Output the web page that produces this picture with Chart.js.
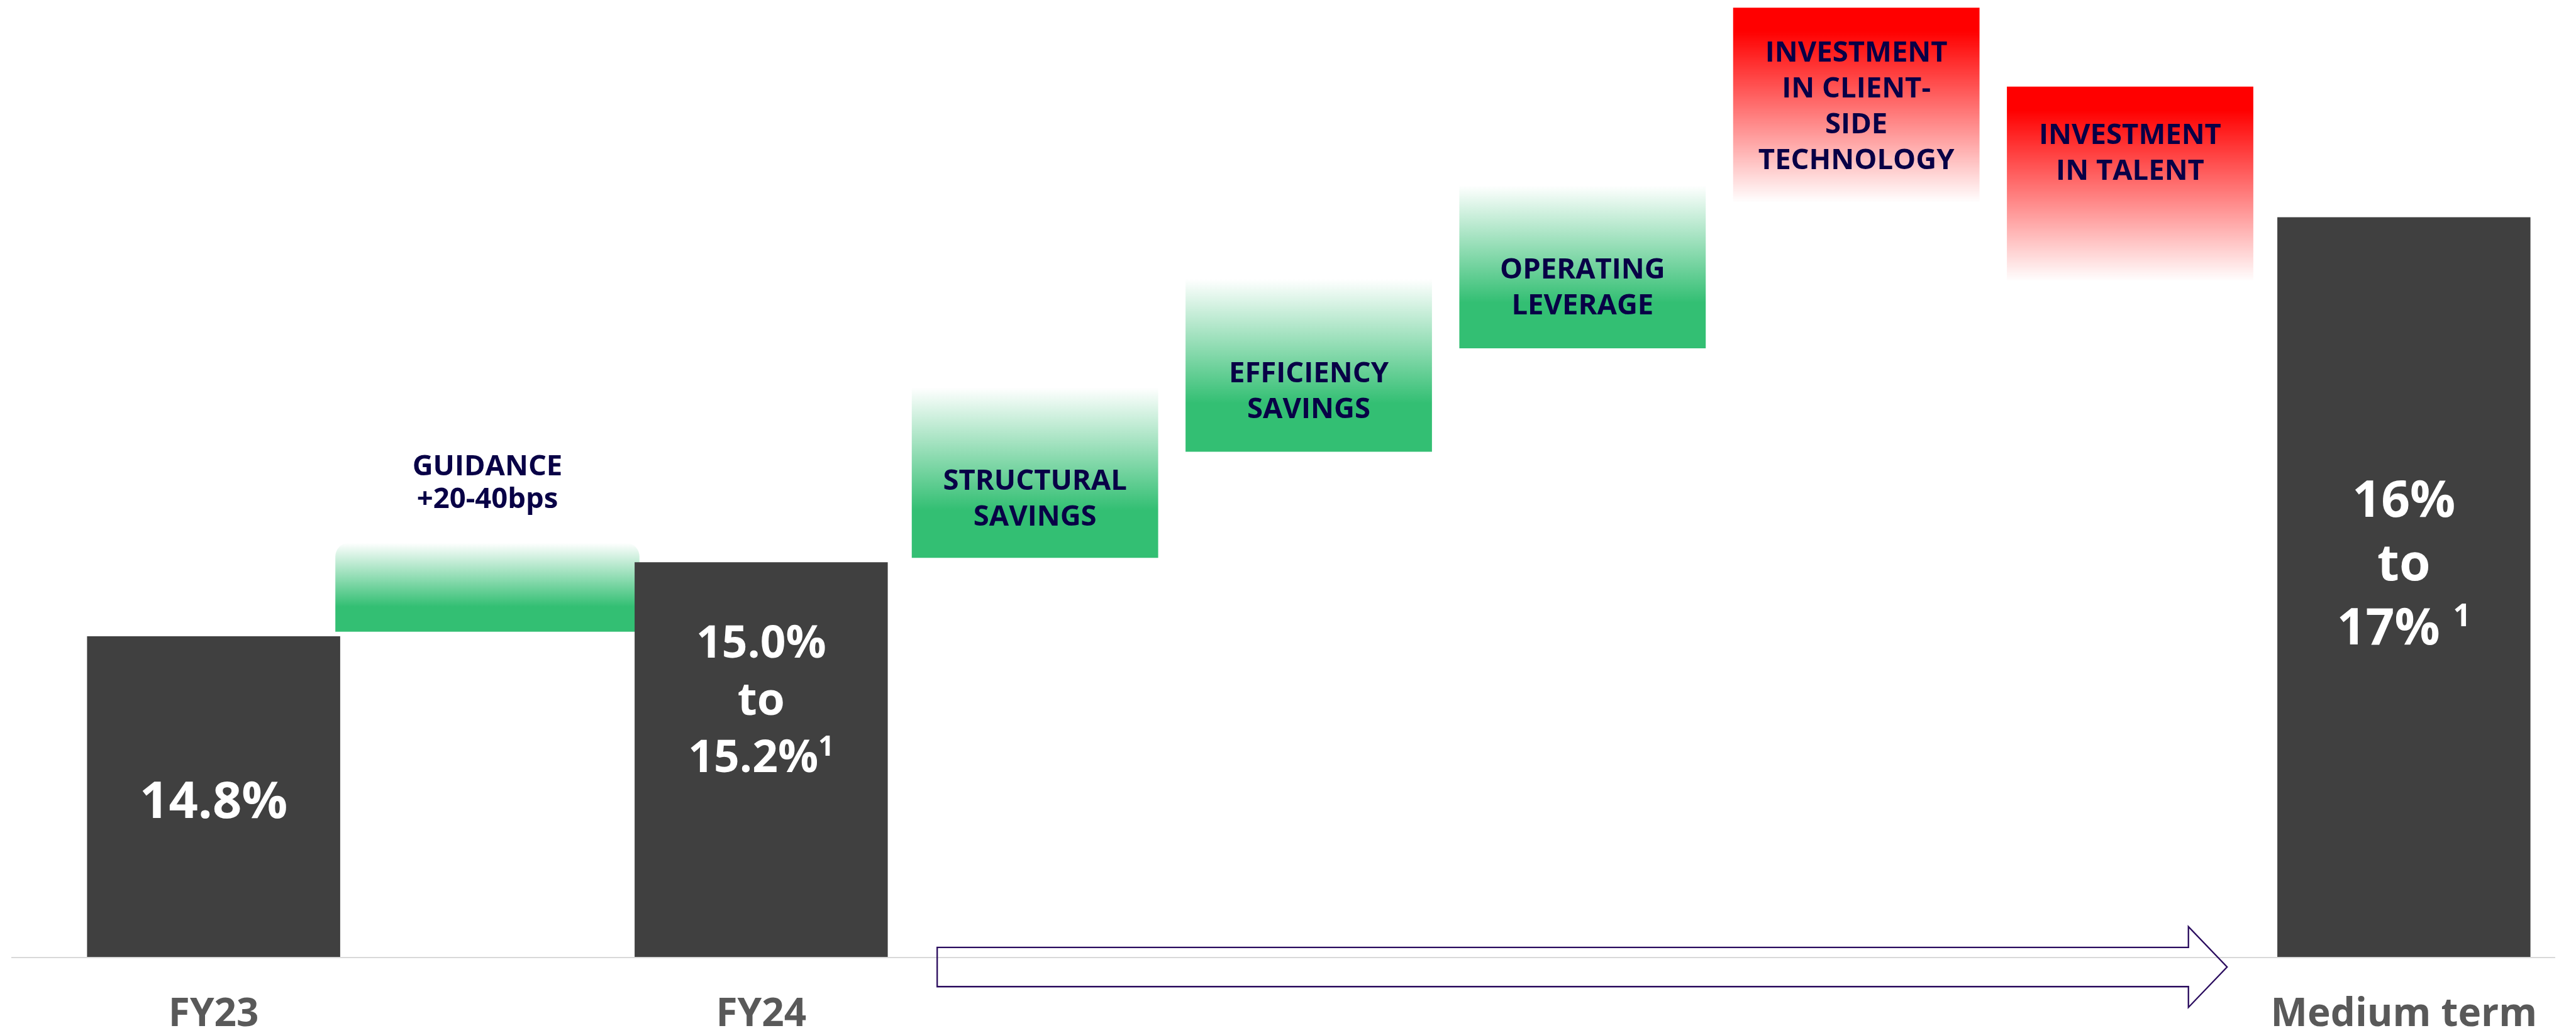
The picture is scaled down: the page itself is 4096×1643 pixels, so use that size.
<!DOCTYPE html>
<html>
<head>
<meta charset="utf-8">
<script src="https://cdn.jsdelivr.net/npm/chart.js@4.4.0/dist/chart.umd.min.js"></script>
<style>
  html, body { margin: 0; padding: 0; background: #fff; }
  #wrap { width: 4096px; height: 1643px; }
</style>
</head>
<body>
<div id="wrap"><canvas id="marginChart" width="4096" height="1643"></canvas></div>
<script>
// data (operating margin walk, % of revenue)
const categories = ['FY23', '', 'FY24', '', '', '', '', '', 'Medium term'];
const marginTotals = [14.8, null, 15.1, null, null, null, null, null, 16.5];
const guidanceRange = [null, [14.82, 15.18], null, null, null, null, null, null, null];
const savingsRanges = [null, null, null, [15.12, 15.81], [15.55, 16.25], [15.97, 16.63], null, null, null];
const investmentRanges = [null, null, null, null, null, null, [16.56, 17.35], [16.24, 17.03], null];
const barLabels = [
  ['14.8%'],
  ['GUIDANCE', '+20-40bps'],
  ['15.0%', 'to', '15.2%'],
  ['STRUCTURAL', 'SAVINGS'],
  ['EFFICIENCY', 'SAVINGS'],
  ['OPERATING', 'LEVERAGE'],
  ['INVESTMENT', 'IN CLIENT-', 'SIDE', 'TECHNOLOGY'],
  ['INVESTMENT', 'IN TALENT'],
  ['16%', 'to', '17% ']
];
const footnotes = [null, null, '1', null, null, null, null, null, '1'];
const yMin = 13.5;
const yMax = 17.382;

// look
const S = 0.891;
const DARK = '#404040';
const NAVY = '#080046';
const FONT = '"Open Sans", "Noto Sans", sans-serif';
// font size, line step, colour, shift of text block from bar middle (reference px)
const labelStyle = [
  { size: 91, step: 0, color: '#fff', shift: 5 },
  { size: 51, step: 58, color: NAVY, shift: -189 },
  { size: 80, step: 102, color: '#fff', shift: -109 },
  { size: 51, step: 64, color: NAVY, shift: 45 },
  { size: 51, step: 64, color: NAVY, shift: 44 },
  { size: 51, step: 64, color: NAVY, shift: 35 },
  { size: 51, step: 64, color: NAVY, shift: 0 },
  { size: 51, step: 64, color: NAVY, shift: -58 },
  { size: 90, step: 114, color: '#fff', shift: -44 }
];

function barSpan(ctx) {
  const raw = ctx.raw;
  const y = ctx.chart.scales.y;
  if (!Array.isArray(raw) || !y) return null;
  return { top: y.getPixelForValue(raw[1]), bottom: y.getPixelForValue(raw[0]) };
}

function greenFade(ctx) {
  const s = barSpan(ctx);
  if (!s) return '#33bf73';
  const g = ctx.chart.ctx.createLinearGradient(0, s.top, 0, s.bottom);
  g.addColorStop(0, 'rgba(51,191,115,0)');
  g.addColorStop(0.72, 'rgba(51,191,115,1)');
  g.addColorStop(1, 'rgba(51,191,115,1)');
  return g;
}

function redFade(ctx) {
  const s = barSpan(ctx);
  if (!s) return '#ff0000';
  const g = ctx.chart.ctx.createLinearGradient(0, s.top, 0, s.bottom);
  g.addColorStop(0, 'rgba(255,0,0,1)');
  g.addColorStop(0.12, 'rgba(255,0,0,1)');
  g.addColorStop(1, 'rgba(255,0,0,0)');
  return g;
}

// baseline under the bars, a bit wider than the plot
const baseLine = {
  id: 'baseLine',
  beforeDatasetsDraw(chart) {
    const { ctx, chartArea } = chart;
    ctx.save();
    ctx.strokeStyle = '#d9d9d9';
    ctx.lineWidth = 2 * S;
    ctx.beginPath();
    ctx.moveTo(18, chartArea.bottom + 1);
    ctx.lineTo(chartArea.right + 23, chartArea.bottom + 1);
    ctx.stroke();
    ctx.restore();
  }
};

// text inside / above each bar
const barText = {
  id: 'barText',
  afterDatasetsDraw(chart) {
    const ctx = chart.ctx;
    const bottom = chart.chartArea.bottom;
    ctx.save();
    ctx.textBaseline = 'alphabetic';
    ctx.textAlign = 'left';
    chart.data.datasets.forEach((ds, di) => {
      chart.getDatasetMeta(di).data.forEach((bar, i) => {
        if (ds.data[i] == null || !barLabels[i]) return;
        const st = labelStyle[i];
        const size = st.size * S, step = st.step * S;
        const cap = 0.714 * size;
        const lines = barLabels[i];
        const mid = (bar.y + Math.min(bar.base, bottom)) / 2 + st.shift * S;
        let yb = mid - ((lines.length - 1) * step + cap) / 2 + cap;
        const mainFont = `bold ${size}px ${FONT}`;
        const supFont = `bold ${size * 0.62}px ${FONT}`;
        ctx.fillStyle = st.color;
        lines.forEach((t, k) => {
          const sup = k === lines.length - 1 ? footnotes[i] : null;
          ctx.font = mainFont;
          const w = ctx.measureText(t).width;
          let sw = 0;
          if (sup) { ctx.font = supFont; sw = ctx.measureText(sup).width; }
          const x0 = bar.x - (w + sw) / 2;
          ctx.font = mainFont;
          ctx.fillText(t, x0, yb);
          if (sup) {
            ctx.font = supFont;
            ctx.fillText(sup, x0 + w, yb - cap - 0.12 * cap + 0.714 * size * 0.62);
          }
          yb += step;
        });
      });
    });
    ctx.restore();
  }
};

// outlined arrow from FY24 towards medium term
const arrow = {
  id: 'arrow',
  afterDatasetsDraw(chart) {
    const start = chart.getDatasetMeta(2).data[3];
    const end = chart.getDatasetMeta(0).data[8];
    if (!start || !end) return;
    const ctx = chart.ctx;
    const x0 = start.x - start.width / 2 + 45 * S;
    const x2 = end.x - end.width / 2 - 90 * S;
    const x1 = x2 - 69 * S;
    const yc = chart.chartArea.bottom + 18 * S;
    const sh = 35 * S, hh = 72 * S;
    ctx.save();
    ctx.strokeStyle = '#2a0c5e';
    ctx.lineWidth = 2.6 * S;
    ctx.lineJoin = 'miter';
    ctx.beginPath();
    ctx.moveTo(x0, yc - sh);
    ctx.lineTo(x1, yc - sh);
    ctx.lineTo(x1, yc - hh);
    ctx.lineTo(x2, yc);
    ctx.lineTo(x1, yc + hh);
    ctx.lineTo(x1, yc + sh);
    ctx.lineTo(x0, yc + sh);
    ctx.closePath();
    ctx.stroke();
    ctx.restore();
  }
};

// config
const config = {
  type: 'bar',
  data: {
    labels: categories,
    datasets: [{
      label: 'Margin',
      data: marginTotals,
      backgroundColor: DARK,
      barThickness: 451 * S
    }, {
      label: 'Guidance',
      data: guidanceRange,
      backgroundColor: greenFade,
      borderRadius: { topLeft: 25 * S, topRight: 25 * S, bottomLeft: 0, bottomRight: 0 },
      borderSkipped: false,
      barThickness: 542 * S
    }, {
      label: 'Savings',
      data: savingsRanges,
      backgroundColor: greenFade,
      barThickness: 439 * S
    }, {
      label: 'Investment',
      data: investmentRanges,
      backgroundColor: redFade,
      barThickness: 439 * S
    }]
  },
  options: {
    responsive: false,
    devicePixelRatio: 1,
    animation: false,
    datasets: { bar: { grouped: false } },
    layout: { padding: { left: 122, right: 56, top: 0, bottom: 0 } },
    plugins: { legend: { display: false }, tooltip: { enabled: false } },
    scales: {
      x: {
        grid: { display: false, drawTicks: false },
        border: { display: false },
        ticks: {
          autoSkip: false,
          maxRotation: 0,
          padding: 55,
          color: '#595959',
          font: { family: FONT, size: 62, weight: 'bold' }
        },
        afterFit: (axis) => { axis.height = 121; }
      },
      y: {
        display: false,
        min: yMin,
        max: yMax
      }
    }
  },
  plugins: [baseLine, barText, arrow]
};

const marginChart = new Chart(document.getElementById('marginChart'), config);
</script>
</body>
</html>
